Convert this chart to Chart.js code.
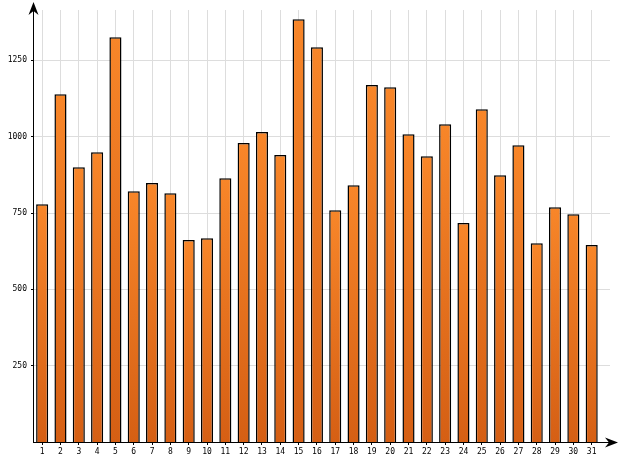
<!DOCTYPE html>
<html>
<head>
<meta charset="utf-8">
<script src="https://cdn.jsdelivr.net/npm/chart.js@4"></script>
<style>
  html, body { margin: 0; padding: 0; background: #fff; }
  #wrap { width: 620px; height: 465px; }
</style>
</head>
<body>
<div id="wrap"><canvas id="chart"></canvas></div>
<script>
const days = [1, 2, 3, 4, 5, 6, 7, 8, 9, 10, 11, 12, 13, 14, 15, 16,
  17, 18, 19, 20, 21, 22, 23, 24, 25, 26, 27, 28, 29, 30, 31];
const values = [779, 1139, 900, 949, 1326, 821, 848, 815, 662, 667, 864,
  979, 1015, 940, 1385, 1293, 759, 841, 1169, 1162, 1008, 936, 1041, 717,
  1090, 874, 972, 651, 769, 746, 645];
const yTicks = [250, 500, 750, 1000, 1250];

const tickFont = { family: "DejaVu Sans Mono", size: 8 };

// each bar gets its own top-to-bottom gradient
function barFill(ctx) {
  const chart = ctx.chart;
  const y = chart.scales.y;
  if (!chart.chartArea || !y || ctx.raw == null) return "#ee7722";
  const top = y.getPixelForValue(ctx.raw.y);
  const bottom = y.getPixelForValue(0);
  const g = chart.ctx.createLinearGradient(0, top, 0, bottom);
  g.addColorStop(0, "#f88629");
  g.addColorStop(1, "#d55f14");
  return g;
}

const arrows = {
  id: "arrows",
  afterDraw(chart) {
    const { ctx, chartArea: a } = chart;
    ctx.save();
    ctx.fillStyle = "#000";
    ctx.strokeStyle = "#000";
    ctx.lineWidth = 1;
    // y axis extension + arrow
    ctx.beginPath();
    ctx.moveTo(a.left + 0.5, a.top);
    ctx.lineTo(a.left + 0.5, 8);
    ctx.stroke();
    ctx.beginPath();
    ctx.moveTo(a.left + 0.5, 2);
    ctx.lineTo(a.left + 5.5, 15);
    ctx.lineTo(a.left + 0.5, 11);
    ctx.lineTo(a.left - 4.5, 15);
    ctx.closePath();
    ctx.fill();
    // x axis extension + arrow
    ctx.beginPath();
    ctx.moveTo(a.right, a.bottom + 0.5);
    ctx.lineTo(612, a.bottom + 0.5);
    ctx.stroke();
    ctx.beginPath();
    ctx.moveTo(618, a.bottom + 0.5);
    ctx.lineTo(605, a.bottom - 4.5);
    ctx.lineTo(609, a.bottom + 0.5);
    ctx.lineTo(605, a.bottom + 5.5);
    ctx.closePath();
    ctx.fill();
    ctx.restore();
  }
};

new Chart(document.getElementById("chart"), {
  type: "bar",
  data: {
    datasets: [{
      data: days.map((d, i) => ({ x: d, y: values[i] })),
      backgroundColor: barFill,
      borderColor: "#000",
      borderWidth: 1.5,
      categoryPercentage: 1,
      barPercentage: 0.66,
    }],
  },
  options: {
    responsive: true,
    maintainAspectRatio: false,
    animation: false,
    layout: { padding: { top: 10, right: 10, left: 0, bottom: 0 } },
    plugins: { legend: { display: false }, tooltip: { enabled: false } },
    scales: {
      x: {
        type: "linear",
        min: 0.5,
        max: 32,
        offset: false,
        afterBuildTicks: (s) => { s.ticks = days.map((d) => ({ value: d })); },
        afterFit: (s) => { s.height = 23; },
        grid: { color: "#dddddd", tickColor: "#000", tickLength: 3, offset: false },
        border: { color: "#000", width: 1 },
        ticks: { font: tickFont, color: "#000", padding: 2, maxRotation: 0, autoSkip: false,
          callback: (v) => String(v) },
      },
      y: {
        min: 0,
        max: 1415,
        afterBuildTicks: (s) => { s.ticks = yTicks.map((v) => ({ value: v })); },
        afterFit: (s) => { s.width = 33; },
        grid: { color: "#dddddd", tickColor: "#000", tickLength: 2 },
        border: { color: "#000", width: 1 },
        ticks: { font: tickFont, color: "#000", padding: 4, callback: (v) => String(v) },
      },
    },
  },
  plugins: [arrows],
});
</script>
</body>
</html>
